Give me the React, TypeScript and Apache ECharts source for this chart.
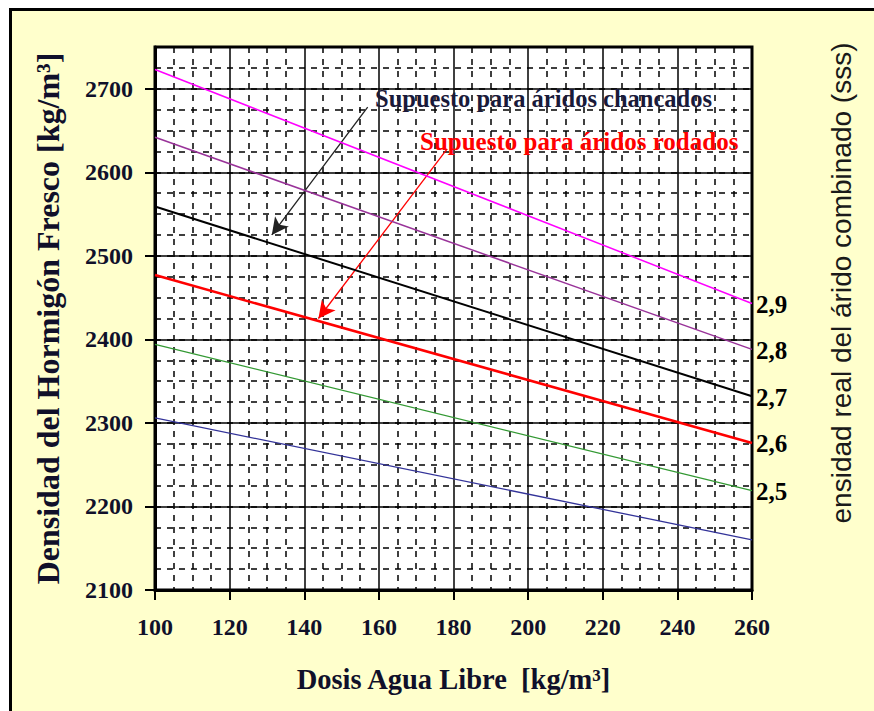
import React, { useEffect, useRef } from "react";
import * as echarts from "echarts";

// ---- data ----
const waterDose = [100, 260];
const seriesNames = ["2,9", "2,8", "2,7", "2,6", "2,5", "2,4"];
const densityMagenta = [2723, 2443];
const densityPurple = [2642, 2388];
const densityBlack = [2559, 2332];
const densityRed = [2477, 2276];
const densityGreen = [2394, 2219];
const densityBlue = [2306, 2160];
const rightLabels = ["2,9", "2,8", "2,7", "2,6", "2,5", ""];
const yTicks = [2100, 2200, 2300, 2400, 2500, 2600, 2700];
const xTicks = [100, 120, 140, 160, 180, 200, 220, 240, 260];
// arrow annotations [start, end] in data coords
const arrowChancados = [[157, 2678], [131.3, 2525]];
const arrowRodados = [[178.3, 2628], [143.8, 2425]];

const allSeries = [densityMagenta, densityPurple, densityBlack, densityRed, densityGreen, densityBlue];
const colors = ["#FF00FF", "#993399", "#000000", "#FF0000", "#339933", "#333399"];
const widths = [1.5, 1.5, 2, 2.5, 1.3, 1.3];

const SERIF = "'Liberation Serif', 'Times New Roman', serif";
const SANS = "'Liberation Sans', Arial, sans-serif";
const TXT = "#10102a";

export default function App() {
  const ref = useRef<HTMLDivElement>(null);
  useEffect(() => {
    if (!ref.current) return;
    const chart = echarts.init(ref.current, null, { renderer: "svg" });
    const series: any[] = allSeries.map((vals, i) => ({
      name: seriesNames[i],
      type: "line",
      data: waterDose.map((x, j) => [x, vals[j]]),
      showSymbol: false,
      symbol: "none",
      lineStyle: { color: colors[i], width: widths[i] },
      itemStyle: { color: colors[i] },
      z: 5,
      endLabel: {
        show: rightLabels[i] !== "",
        formatter: () => rightLabels[i],
        color: "#000",
        fontFamily: SERIF,
        fontWeight: "bold",
        fontSize: 25,
        distance: 4,
        offset: [0, 1],
      },
    }));
    const arrowLine = (pts: number[][], color: string) => ({
      silent: true,
      symbol: ["none", "arrow"],
      symbolSize: [13, 17],
      label: { show: false },
      lineStyle: { color, width: 1.3, type: "solid" },
      data: [[{ coord: pts[0] }, { coord: pts[1] }]],
    });
    series.push({
      type: "line",
      data: [],
      markLine: arrowLine(arrowChancados, "#222"),
    });
    series.push({
      type: "line",
      data: [],
      markLine: arrowLine(arrowRodados, "#FF0000"),
    });

    chart.setOption({
      animation: false,
      grid: {
        left: 155,
        right: 122,
        top: 47,
        bottom: 121,
        show: true,
        backgroundColor: "#ffffff",
        borderColor: "#000",
        borderWidth: 3,
        z: 0,
      },
      xAxis: {
        type: "value",
        min: 100,
        max: 260,
        interval: 20,
        axisLine: { show: true, lineStyle: { color: "#000", width: 3 } },
        axisTick: { show: true, length: 10, lineStyle: { color: "#000", width: 2 }, customValues: xTicks },
        minorTick: { show: true, splitNumber: 4, length: 0 },
        minorSplitLine: { show: true, lineStyle: { color: "#000", width: 1.5, type: [6, 6] } },
        splitLine: { show: true, lineStyle: { color: "#000", width: 1.5 } },
        axisLabel: {
          customValues: xTicks,
          formatter: (v: number) => String(v),
          margin: 25,
          color: TXT,
          fontFamily: SERIF,
          fontWeight: "bold",
          fontSize: 24,
        },
        name: "Dosis Agua Libre  [kg/m³]",
        nameLocation: "middle",
        nameGap: 75,
        nameTextStyle: { color: TXT, fontFamily: SERIF, fontWeight: "bold", fontSize: 28.5 },
      },
      yAxis: [
        {
          type: "value",
          min: 2100,
          max: 2750,
          interval: 100,
          axisLine: { show: true, lineStyle: { color: "#000", width: 3 } },
          axisTick: { show: true, length: 10, lineStyle: { color: "#000", width: 2 }, customValues: yTicks },
          splitLine: { show: true, lineStyle: { color: "#000", width: 1.5 } },
          axisLabel: {
            customValues: yTicks,
            formatter: (v: number) => String(v),
            margin: 22,
            color: TXT,
            fontFamily: SERIF,
            fontWeight: "bold",
            fontSize: 24,
          },
          name: "Densidad del Hormigón Fresco [kg/m³]",
          nameLocation: "middle",
          nameGap: 91,
          nameTextStyle: { color: TXT, fontFamily: SERIF, fontWeight: "bold", fontSize: 32 },
        },
        {
          type: "value",
          min: 2100,
          max: 2750,
          interval: 25,
          position: "right",
          axisLine: { show: false },
          axisTick: { show: false },
          axisLabel: { show: false },
          splitLine: { show: true, lineStyle: { color: "#000", width: 1.5, type: [6, 6] } },
        },
      ],
      graphic: [
        {
          type: "text",
          left: 375,
          top: 86,
          z: 20,
          style: {
            text: "Supuesto para áridos chancados",
            fill: "#1a1a3a",
            font: `bold 24.5px ${SERIF}`,
          },
        },
        {
          type: "text",
          left: 420,
          top: 129,
          z: 20,
          style: {
            text: "Supuesto para áridos rodados",
            fill: "#FF0000",
            font: `bold 25px ${SERIF}`,
          },
        },
        {
          type: "text",
          x: 841,
          y: 283,
          rotation: Math.PI / 2,
          z: 20,
          style: {
            text: "ensidad real del árido combinado (sss)",
            fill: "#1a1a1a",
            font: `28px ${SANS}`,
            align: "center",
            verticalAlign: "middle",
          },
        },
      ],
      series,
    });
    return () => chart.dispose();
  }, []);

  return (
    <div style={{ position: "fixed", left: 0, top: 0, width: 874, height: 711, background: "#fff", overflow: "hidden" }}>
      <div
        style={{
          position: "absolute",
          left: 9,
          top: 8,
          width: 900,
          height: 800,
          border: "3px solid #000",
          boxSizing: "border-box",
          background: "#FFFFCC",
        }}
      />
      <div ref={ref} style={{ position: "absolute", left: 0, top: 0, width: 874, height: 711 }} />
    </div>
  );
}
